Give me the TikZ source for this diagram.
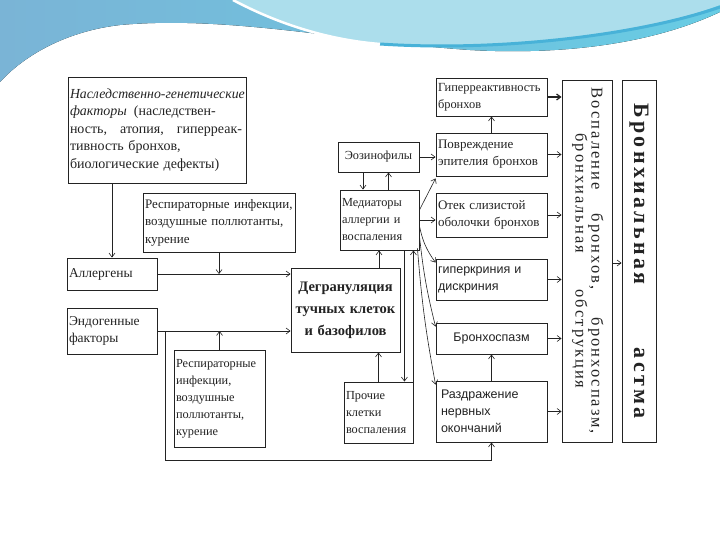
\documentclass[tikz,border=0pt]{standalone}
\usepackage{fontspec}
\setmainfont{Liberation Serif}
\newfontfamily\arialfont{Liberation Sans}
\usepackage{graphicx}
\usetikzlibrary{arrows.meta}
\definecolor{hdrBlue}{RGB}{122,180,214}
\definecolor{hdrCyan}{RGB}{104,204,228}
\definecolor{hdrLight}{RGB}{172,222,236}
\definecolor{hdrStripe}{RGB}{72,178,216}
\definecolor{inkGray}{RGB}{35,35,35}
\newcommand{\sizeMain}{\fontsize{13.5}{17.5}\selectfont}
\newcommand{\sizeSmall}{\fontsize{12.3}{17}\selectfont}
\newcommand{\sizeRight}{\fontsize{13}{17}\selectfont}
\newcommand{\sizeSans}{\fontsize{12.5}{17}\selectfont\arialfont}
\newcommand{\sizeDegran}{\fontsize{14.5}{22}\selectfont\bfseries}
\newcommand{\fullLine}[1]{\leavevmode\hbox to 172pt{#1}}

\begin{document}
\begin{tikzpicture}[x=1pt,y=-1pt,
  box/.style={draw=inkGray, line width=0.9pt, inner sep=2pt, align=left, font=\sizeMain, text=inkGray},
  rbox/.style={box, text width=107pt, font=\sizeRight},
  sbox/.style={rbox, font=\sizeSans},
  arr/.style={-{Straight Barb[length=4pt,width=6pt]}, line width=0.6pt, draw=inkGray}]
\useasboundingbox[fill=white] (0,0) rectangle (720,540);

% header wave
\fill[left color=hdrBlue, right color=hdrCyan] (0,0) -- (720,0) -- (720,12)
  .. controls (650,45) and (560,55) .. (470,50)
  .. controls (350,42) and (230,15) .. (120,25)
  .. controls (60,32) and (20,60) .. (0,82) -- cycle;
\fill[hdrLight] (233,0) .. controls (280,25) and (330,40) .. (380,44)
  .. controls (500,52) and (640,35) .. (720,5) -- (720,0) -- cycle;
\draw[hdrStripe, line width=3pt] (380,44) .. controls (500,52) and (640,35) .. (720,7);
\draw[white, line width=2.5pt] (233,0) .. controls (280,25) and (330,40) .. (380,44);

% left part
\node[box, text width=174pt, minimum height=106pt, font=\fontsize{14}{17.5}\selectfont] (hered) at (157,130)
  {\fullLine{\fontsize{13.8}{17.5}\selectfont\textit{Наследственно-генетические}\hss}\\
   \textit{факторы}\hspace{7pt}(наследствен-\\
   \fullLine{ность,\hfill атопия,\hfill гиперреак-}\\
   тивность бронхов,\\биологические дефекты)};
\node[box, text width=148pt, minimum height=59pt, font=\fontsize{13}{17.5}\selectfont] (resp1) at (219,222.5)
  {Респираторные инфекции,\\воздушные поллютанты,\\курение};
\node[box, text width=86pt, minimum height=32pt] (allerg) at (112,274) {Аллергены};
\node[box, text width=86pt, minimum height=46pt] (endo) at (112,331) {Эндогенные\\факторы};
\node[box, text width=87pt, minimum height=97pt, font=\sizeSmall] (resp2) at (219.5,398.5)
  {Респираторные\\инфекции,\\воздушные\\поллютанты,\\курение};

% centre
\node[box, align=center, text width=105pt, minimum height=84pt, font=\sizeDegran] (degran) at (345.5,310)
  {Дегрануляция\\тучных клеток\\и базофилов};
\node[box, align=center, text width=77pt, minimum height=30pt, font=\sizeSmall] (eos) at (378.5,157) {Эозинофилы};
\node[box, text width=75pt, minimum height=60pt, font=\sizeSmall] (medi) at (379.5,220) {Медиаторы\\аллергии и\\воспаления};
\node[box, text width=65pt, minimum height=61pt, font=\sizeSmall] (other) at (378.5,412.5) {Прочие\\клетки\\воспаления};

% right column
\node[rbox, minimum height=38pt, font=\fontsize{12.4}{17}\selectfont] (hyper) at (491.5,97) {Гиперреактивность\\бронхов};
\node[rbox, minimum height=43pt] (damage) at (491.5,154.5) {Повреждение\\эпителия бронхов};
\node[rbox, minimum height=44pt] (edema) at (491.5,215) {Отек слизистой\\оболочки бронхов};
\node[sbox, minimum height=41pt] (hcrin) at (491.5,279.5) {гиперкриния и\\дискриния};
\node[sbox, align=center, minimum height=31pt] (bspasm) at (491.5,338.5) {Бронхоспазм};
\node[sbox, minimum height=61pt] (irrit) at (491.5,411.5) {\hspace*{3pt}Раздражение\\\hspace*{3pt}нервных\\\hspace*{3pt}окончаний};

% vertical boxes
\node[box, inner sep=0pt, minimum width=50pt, minimum height=362pt] (vbox1) at (587,261)
  {\rotatebox{-90}{\fontsize{16.5}{17}\selectfont\addfontfeature{LetterSpace=12}%
    \begin{tabular}{@{}c@{}}\makebox[346pt][s]{Воспаление бронхов, бронхоспазм,}\\[-1pt]
    \makebox[255pt][s]{бронхиальная обструкция}\end{tabular}}};
\node[box, inner sep=0pt, minimum width=34pt, minimum height=362pt] (vbox2) at (639,261)
  {\rotatebox{-90}{\fontsize{22}{24}\selectfont\bfseries\addfontfeature{LetterSpace=15}%
    \makebox[315pt][s]{Бронхиальная астма}}};

% connectors
\draw[arr] (allerg.north |- hered.south) -- (allerg.north);
\draw[arr] (resp1.south) -- (resp1.south |- allerg.east);
\draw[arr] (allerg.east) -- (allerg.east -| degran.west);
\draw[arr] (endo.east) -- (endo.east -| degran.west);
\draw[arr] (resp2.north) -- (resp2.north |- endo.east);
\coordinate (loop) at (165,460);
\draw[arr] (loop |- endo.east) -- (loop) -| (irrit.south);
\draw[arr] ([xshift=33.5pt]degran.north) -- ([xshift=33.5pt]degran.north |- medi.south);
\draw[arr] (other.north) -- (other.north |- degran.south);
\draw[arr] ([xshift=-15pt]medi.south east) -- ([xshift=-15pt]medi.south east |- other.north);
\draw[arr] (other.north east) -- (other.north east |- medi.south);
\draw[arr] ([xshift=-15.5pt]eos.south) -- ([xshift=-15.5pt]eos.south |- medi.north);
\draw[arr] ([xshift=9pt]medi.north) -- ([xshift=9pt]medi.north |- eos.south);
\draw[arr] (eos.east) -- (eos.east -| damage.west);
\draw[arr] ([yshift=10pt]medi.east) -- ([yshift=-2pt]damage.south west);
\draw[arr] (medi.east) -- (medi.east -| edema.west);
\draw[arr] ([yshift=-6pt]medi.east) to[bend right=12] ([yshift=-4pt]hcrin.north west);
\draw[arr] ([yshift=-16pt]medi.east) to[bend right=4] ([yshift=-4pt]bspasm.north west);
\draw[arr] ([xshift=-2pt,yshift=2pt]medi.south east) to[bend right=3] ([yshift=-4pt]irrit.north west);
\draw[arr] (damage.north) -- (hyper.south);
\draw[arr] (irrit.north) -- (bspasm.south);
\draw[arr, line width=1.2pt] (hyper.east) -- (hyper.east -| vbox1.west);
\foreach \b in {damage, edema, hcrin, bspasm, irrit}
  \draw[arr] (\b.east) -- (\b.east -| vbox1.west);
\draw[arr] ([yshift=-2pt]vbox1.east) -- ([yshift=-2pt]vbox1.east -| vbox2.west);
\end{tikzpicture}
\end{document}
